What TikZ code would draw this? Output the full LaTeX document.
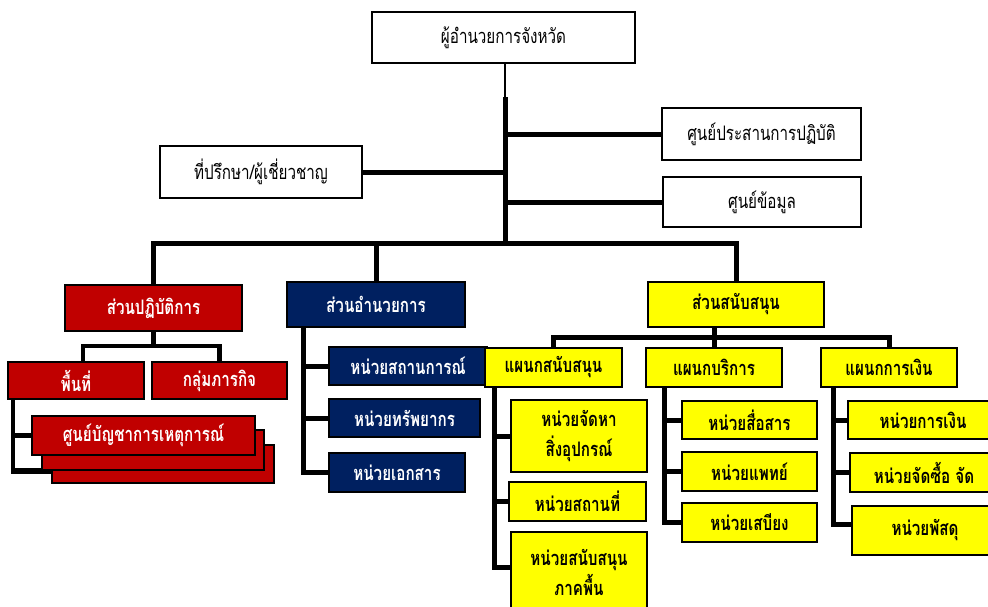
\documentclass[tikz,border=0pt]{standalone}
\usepackage{fontspec}
\newfontfamily\thaifont[Script=Thai,FakeStretch=0.76]{Loma}
\definecolor{opsred}{HTML}{C00000}
\definecolor{admnavy}{HTML}{002060}
\definecolor{supyellow}{HTML}{FFFF00}
\pgfdeclarelayer{wires}
\pgfsetlayers{wires,main}
% \orgbox{style}{name}{x1}{y1}{x2}{y2}{text}: a box given by its corners
\newcommand\orgbox[7]{%
  \node[#1, minimum width={(#5-#3)*1pt}, minimum height={(#6-#4)*1pt}]
    (#2) at ({(#3+#5)/2},{(#4+#6)/2}) {#7};}
\begin{document}
\begin{tikzpicture}[x=1pt,y=-1pt,
  box/.style={draw=black, line width=1.6pt, rectangle, inner sep=0pt,
    outer sep=0pt, align=center},
  plainbox/.style={box, fill=white, text=black,
    font=\thaifont\fontsize{20}{29}\selectfont},
  redbox/.style={box, fill=opsred, text=white,
    font=\thaifont\bfseries\fontsize{20}{29}\selectfont},
  navybox/.style={box, fill=admnavy, text=white,
    font=\thaifont\bfseries\fontsize{20}{29}\selectfont},
  yellowbox/.style={box, fill=supyellow, text=black,
    font=\thaifont\bfseries\fontsize{20}{30}\selectfont},
  conn/.style={draw=black, line width=5pt},
  redconn/.style={draw=black, line width=4.5pt},
  thinconn/.style={draw=black, line width=2.5pt},
]
\useasboundingbox (0,0) rectangle (988,606);
\clip (0,0) rectangle (988,606);

% ---- head of the province and its staff ----
\orgbox{plainbox}{top}{372}{12}{635}{63}{ผู้อำนวยการจังหวัด}
\orgbox{plainbox}{coord}{662}{108}{861}{160}{ศูนย์ประสานการปฏิบัติ}
\orgbox{plainbox}{adv}{160}{146}{362}{198}{ที่ปรึกษา/ผู้เชี่ยวชาญ}
\orgbox{plainbox}{info}{663}{177}{861}{227}{ศูนย์ข้อมูล}

% ---- operations ----
\orgbox{redbox}{ops}{65}{285}{242}{331}{ส่วนปฏิบัติการ}
\orgbox{redbox}{area}{8}{362}{144}{399}{พื้นที่}
\orgbox{redbox}{mission}{152}{362}{287}{399}{กลุ่มภารกิจ}
\orgbox{redbox}{iccc}{52}{445}{274}{483}{}
\orgbox{redbox}{iccb}{42}{430}{264}{470}{}
\orgbox{redbox}{icca}{32}{416}{255}{455}{ศูนย์บัญชาการเหตุการณ์}

% ---- administration ----
\orgbox{navybox}{admin}{287}{282}{465}{327}{ส่วนอำนวยการ}
\orgbox{navybox}{sit}{329}{347}{487}{385}{หน่วยสถานการณ์}
\orgbox{navybox}{res}{329}{399}{480}{437}{หน่วยทรัพยากร}
\orgbox{navybox}{doc}{329}{453}{465}{492}{หน่วยเอกสาร}

% ---- support ----
\orgbox{yellowbox}{support}{648}{282}{824}{327}{ส่วนสนับสนุน}
\orgbox{yellowbox}{supsec}{485}{348}{622}{387}{แผนกสนับสนุน}
\orgbox{yellowbox}{service}{646}{348}{782}{387}{แผนกบริการ}
\orgbox{yellowbox}{finance}{821}{348}{957}{387}{แผนกการเงิน}
\orgbox{yellowbox}{procure}{511}{400}{647}{472}{หน่วยจัดหา\\สิ่งอุปกรณ์}
\orgbox{yellowbox}{place}{509}{482}{646}{521}{หน่วยสถานที่}
\orgbox{yellowbox}{ground}{511}{532}{647}{612}{หน่วยสนับสนุน\\ภาคพื้น}
\orgbox{yellowbox}{comm}{682}{401}{817}{439}{หน่วยสื่อสาร}
\orgbox{yellowbox}{med}{682}{452}{817}{491}{หน่วยแพทย์}
\orgbox{yellowbox}{food}{682}{503}{817}{542}{หน่วยเสบียง}
\orgbox{yellowbox}{fin}{848}{401}{998}{439}{หน่วยการเงิน}
\orgbox{yellowbox}{purch}{850}{453}{998}{492}{หน่วยจัดซื้อ จัด}
\orgbox{yellowbox}{supply}{852}{506}{998}{555}{หน่วยพัสดุ}

% ---- junction points ----
\coordinate (tkA) at (505,97);
\coordinate (tkB) at (505,243);
\coordinate (opsJ) at (153.5,346);
\coordinate (areaL) at ([xshift=5pt]area.south west);
\coordinate (admL) at ([xshift=16pt]admin.south west);
\coordinate (supJ) at (714,337);
\coordinate (ssL) at ([xshift=9pt]supsec.south west);
\coordinate (svL) at ([xshift=18pt]service.south west);
\coordinate (fnL) at ([xshift=12pt]finance.south west);

\begin{pgfonlayer}{wires}
  % trunk and staff branches
  \draw[thinconn] (top.south -| tkA) -- (tkA);
  \draw[conn] (tkA) -- (tkB);
  \draw[conn] (tkA |- coord.west) -- (coord.west);
  \draw[conn] (adv.east) -- (tkA |- adv.east);
  \draw[conn] (tkA |- info.west) -- (info.west);
  % main bus to the three sections
  \draw[conn] (ops.north) |- (tkB) -| (support.north);
  \draw[conn] (admin.north) -- (admin.north |- tkB);
  % operations
  \draw[redconn] (ops.south) -- (opsJ);
  \draw[redconn] ([xshift=7pt]area.north) |- (opsJ) -| (mission.north);
  \draw[redconn] (areaL) |- ([yshift=-8pt]iccc.west);
  \draw[redconn] (areaL |- icca.west) -- (icca.west);
  \draw[redconn] (areaL |- iccb.south) -- (iccb.west |- iccb.south);
  % administration
  \draw[conn] (admL) |- (doc.west);
  \draw[conn] (admL |- sit.west) -- (sit.west);
  \draw[conn] (admL |- res.west) -- (res.west);
  % support
  \draw[conn] (support.south -| service.north) -- (service.north);
  \draw[conn] (supsec.north) |- (supJ) -| (finance.north);
  \draw[conn] (ssL) |- ([yshift=5pt]ground.west);
  \draw[conn] (ssL |- procure.west) -- (procure.west);
  \draw[conn] (ssL |- place.west) -- (place.west);
  \draw[conn] (svL) |- (food.west);
  \draw[conn] (svL |- comm.west) -- (comm.west);
  \draw[conn] (svL |- med.west) -- (med.west);
  \draw[conn] (fnL) |- ([yshift=6pt]supply.west);
  \draw[conn] (fnL |- fin.west) -- (fin.west);
  \draw[conn] (fnL |- purch.west) -- (purch.west);
\end{pgfonlayer}
\end{tikzpicture}
\end{document}
